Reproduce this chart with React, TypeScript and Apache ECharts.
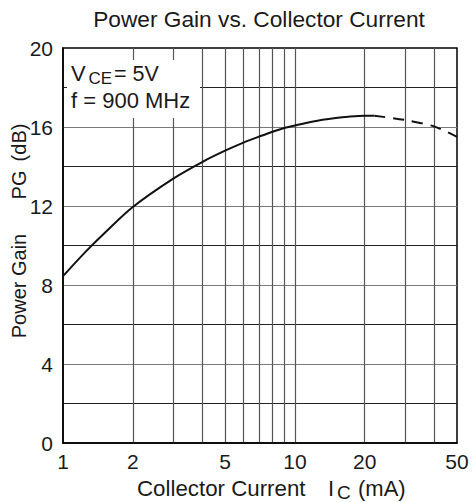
import React, { useEffect, useRef } from 'react';
import * as echarts from 'echarts';

// Measured curve (solid portion)
const xSolid = [1, 1.25, 1.5, 2, 3, 4, 5, 6, 7, 8, 9, 10, 12, 15, 17, 20, 22];
const ySolid = [8.45, 9.68, 10.6, 11.95, 13.4, 14.24, 14.8, 15.21, 15.51, 15.76, 15.95, 16.08, 16.28, 16.45, 16.52, 16.57, 16.57];
// Extrapolated (dashed) portion
const xDashed = [22, 30, 40, 50];
const yDashed = [16.57, 16.35, 16.02, 15.5];

const xGridValues = [1, 2, 3, 4, 5, 6, 7, 8, 9, 10, 20, 30, 40, 50];
const xTickLabels = [1, 2, 5, 10, 20, 50];
const yTickLabels = [0, 4, 8, 12, 16, 20];

const FONT = "'Liberation Sans', Arial, Helvetica, sans-serif";
const TXT = '#1a1a1a';

export default function App() {
  const ref = useRef<HTMLDivElement>(null);
  useEffect(() => {
    if (!ref.current) return;
    const chart = echarts.init(ref.current, undefined, { renderer: 'svg' });
    const solid = xSolid.map((x, i) => [x, ySolid[i]]);
    const dashed = xDashed.map((x, i) => [x, yDashed[i]]);
    const txt = (text: string, x: number, y: number, size: number, extra: any = {}) => ({
      type: 'text',
      x,
      y,
      z: 100,
      ...extra,
      style: {
        text,
        fill: TXT,
        fontSize: size,
        fontFamily: FONT,
        align: extra.align || 'left',
        verticalAlign: 'middle',
      },
    });
    chart.setOption({
      animation: false,
      backgroundColor: '#fff',
      grid: {
        left: 63,
        right: 15,
        top: 48,
        bottom: 59,
        show: true,
        borderColor: '#000',
        borderWidth: 1.5,
        backgroundColor: 'transparent',
        containLabel: false,
      },
      xAxis: {
        type: 'log',
        logBase: 10,
        min: 1,
        max: 50,
        axisLine: { show: true, onZero: false, lineStyle: { color: '#000', width: 1.5 } },
        axisTick: { show: false, customValues: xGridValues },
        axisLabel: {
          customValues: xTickLabels,
          color: TXT,
          fontSize: 21,
          fontFamily: FONT,
          margin: 8,
          formatter: (v: number) => String(Math.round(v * 100) / 100),
        },
        splitLine: {
          show: true,
          showMinLine: false,
          showMaxLine: false,
          lineStyle: { color: '#555', width: 1.2 },
        },
        minorTick: { show: false },
        minorSplitLine: { show: false },
      },
      yAxis: {
        type: 'value',
        min: 0,
        max: 20,
        interval: 2,
        axisLine: { show: true, onZero: false, lineStyle: { color: '#000', width: 1.5 } },
        axisTick: { show: false },
        axisLabel: {
          color: TXT,
          fontSize: 21,
          fontFamily: FONT,
          margin: 10,
          formatter: (v: number) => (yTickLabels.indexOf(v) >= 0 ? String(v) : ''),
        },
        splitLine: {
          show: true,
          showMinLine: false,
          showMaxLine: false,
          lineStyle: { color: ['#222', '#7a7a7a'], width: 1.2 },
        },
      },
      series: [
        {
          type: 'line',
          data: solid,
          smooth: 0.3,
          symbol: 'none',
          lineStyle: { color: '#111', width: 2 },
          z: 10,
        },
        {
          type: 'line',
          data: dashed,
          smooth: 0.3,
          symbol: 'none',
          lineStyle: { color: '#111', width: 2, type: [11, 8] },
          z: 10,
        },
      ],
      graphic: [
        txt('Power Gain vs. Collector Current', 259, 19, 22.7, { align: 'center' }),
        {
          type: 'rect',
          z: 99,
          shape: { x: 67, y: 60, width: 133, height: 58 },
          style: { fill: '#fff' },
        },
        txt('V', 71, 73.6, 22),
        txt('CE', 88.5, 78.5, 17),
        txt('= 5V', 114, 73.6, 21.5),
        txt('f = 900 MHz', 71, 100.6, 22),
        txt('Collector Current', 137, 488.3, 22.3),
        txt('I', 328, 488.3, 22),
        txt('C', 337, 492.5, 19),
        txt('(mA)', 358, 488.3, 22),
        txt('Power Gain', 19, 286, 20, { rotation: Math.PI / 2, align: 'center' }),
        txt('PG', 19, 185, 20, { rotation: Math.PI / 2, align: 'center' }),
        txt('(dB)', 19, 142.5, 20, { rotation: Math.PI / 2, align: 'center' }),
      ],
    });
    return () => chart.dispose();
  }, []);
  return (
    <div
      ref={ref}
      style={{ position: 'fixed', left: 0, top: 0, width: 472, height: 502, background: '#fff' }}
    />
  );
}
